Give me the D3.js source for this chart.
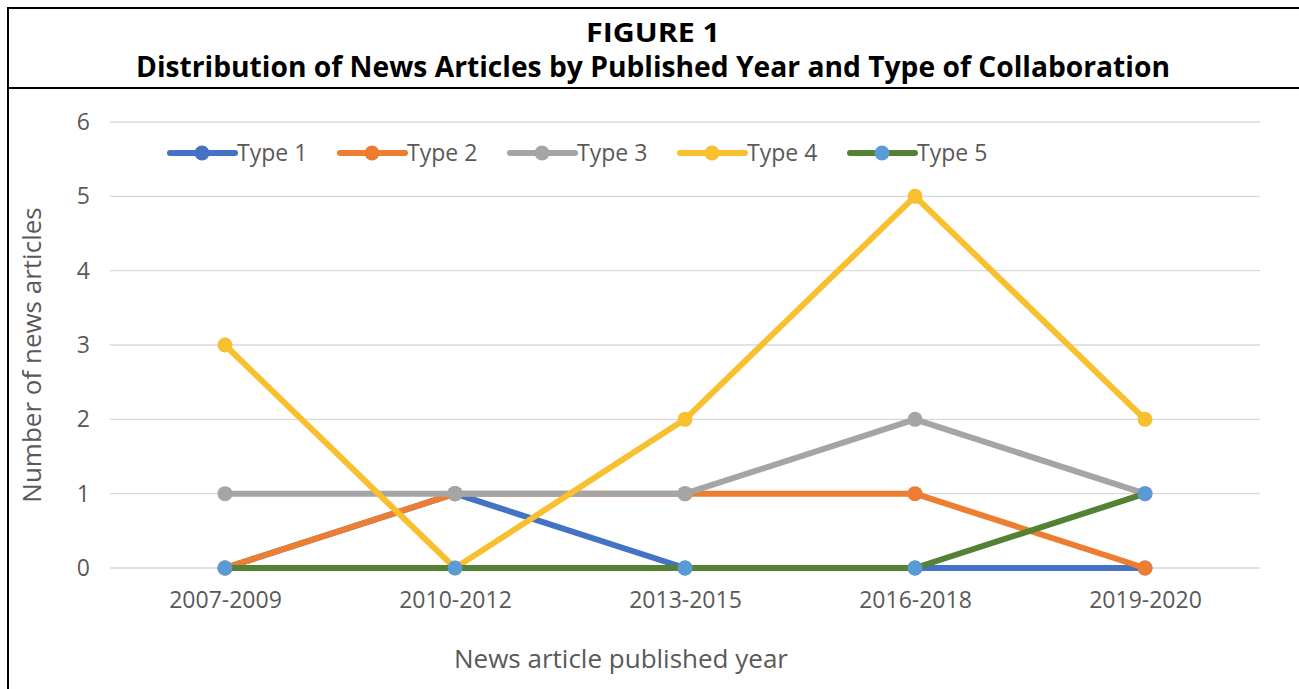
<!DOCTYPE html>
<html>
<head>
<meta charset="utf-8">
<title>Figure 1</title>
<script src="https://cdn.jsdelivr.net/npm/d3@7"></script>
<style>
  body { margin: 0; background: #fff; }
  svg text { font-family: "Open Sans", "Noto Sans", sans-serif; }
</style>
</head>
<body>
<svg id="vis" width="1299" height="689"></svg>
<script>
// data
var periods = ["2007-2009", "2010-2012", "2013-2015", "2016-2018", "2019-2020"];
var seriesNames = ["Type 1", "Type 2", "Type 3", "Type 4", "Type 5"];
var type1 = [0, 1, 0, 0, 0];
var type2 = [0, 1, 1, 1, 0];
var type3 = [1, 1, 1, 2, 1];
var type4 = [3, 0, 2, 5, 2];
var type5 = [0, 0, 0, 0, 1];
var yTicks = [0, 1, 2, 3, 4, 5, 6];

var lineColors = ["#4472C4", "#ED7D31", "#A5A5A5", "#F8C02E", "#548235"];
var dotColors  = ["#4472C4", "#ED7D31", "#A5A5A5", "#F8C02E", "#5B9BD5"];

var series = [type1, type2, type3, type4, type5].map(function (v, i) {
  return { name: seriesNames[i], values: v, line: lineColors[i], dot: dotColors[i] };
});

var svg = d3.select("#vis");

// frame + header
svg.append("rect").attr("x", 8).attr("y", 8).attr("width", 1300).attr("height", 700)
  .attr("fill", "none").attr("stroke", "#000").attr("stroke-width", 2);
svg.append("line").attr("x1", 8).attr("x2", 1299).attr("y1", 88).attr("y2", 88)
  .attr("stroke", "#000").attr("stroke-width", 2);

svg.append("text").attr("x", 653).attr("y", 42).attr("text-anchor", "middle")
  .style("font-weight", "bold").style("font-size", "27px")
  .attr("textLength", 134).attr("lengthAdjust", "spacingAndGlyphs")
  .text("FIGURE 1");
svg.append("text").attr("x", 653).attr("y", 77).attr("text-anchor", "middle")
  .style("font-weight", "bold").style("font-size", "28px")
  .attr("textLength", 1034).attr("lengthAdjust", "spacingAndGlyphs")
  .text("Distribution of News Articles by Published Year and Type of Collaboration");

// scales
var x = d3.scalePoint().domain(periods).range([225, 1145]);
var y = d3.scaleLinear().domain([0, 6]).range([568, 122]);

// gridlines
svg.append("g").selectAll("line").data(yTicks).enter().append("line")
  .attr("x1", 110).attr("x2", 1260)
  .attr("y1", function (d) { return y(d); }).attr("y2", function (d) { return y(d); })
  .attr("stroke", "#d9d9d9").attr("stroke-width", 1.3);

// y axis
var yAxis = svg.append("g").attr("transform", "translate(110,0)")
  .call(d3.axisLeft(y).tickValues(yTicks).tickSize(0).tickPadding(20).tickFormat(d3.format("d")));
yAxis.select(".domain").remove();
yAxis.selectAll("text").style("font-size", "23px").attr("fill", "#595959")
  .style("font-family", "Open Sans, sans-serif");

// x axis
var xAxis = svg.append("g").attr("transform", "translate(0,568)")
  .call(d3.axisBottom(x).tickSize(0).tickPadding(24));
xAxis.select(".domain").remove();
xAxis.selectAll("text").style("font-size", "23px").attr("fill", "#595959")
  .style("font-family", "Open Sans, sans-serif");

// axis titles
svg.append("text").attr("x", 621).attr("y", 668).attr("text-anchor", "middle")
  .style("font-size", "26px").attr("fill", "#595959").text("News article published year");
svg.append("text").attr("transform", "translate(41,355) rotate(-90)").attr("text-anchor", "middle")
  .style("font-size", "26px").attr("fill", "#595959").text("Number of news articles");

// lines
var line = d3.line()
  .x(function (d, i) { return x(periods[i]); })
  .y(function (d) { return y(d); });

series.forEach(function (s) {
  var g = svg.append("g");
  g.append("path").datum(s.values).attr("d", line)
    .attr("fill", "none").attr("stroke", s.line).attr("stroke-width", 6)
    .attr("stroke-linejoin", "round");
  g.selectAll("circle").data(s.values).enter().append("circle")
    .attr("cx", function (d, i) { return x(periods[i]); })
    .attr("cy", function (d) { return y(d); })
    .attr("r", 7.5).attr("fill", s.dot);
});

// legend
var legend = svg.append("g").attr("transform", "translate(170,153)");
var item = legend.selectAll("g").data(series).enter().append("g")
  .attr("transform", function (d, i) { return "translate(" + (i * 170) + ",0)"; });
item.append("line").attr("x1", 0).attr("x2", 65).attr("y1", 0).attr("y2", 0)
  .attr("stroke", function (d) { return d.line; }).attr("stroke-width", 6)
  .attr("stroke-linecap", "round");
item.append("circle").attr("cx", 32).attr("cy", 0).attr("r", 7.5)
  .attr("fill", function (d) { return d.dot; });
item.append("text").attr("x", 67).attr("y", 8)
  .style("font-size", "23px").attr("fill", "#595959")
  .text(function (d) { return d.name; });
</script>
</body>
</html>
